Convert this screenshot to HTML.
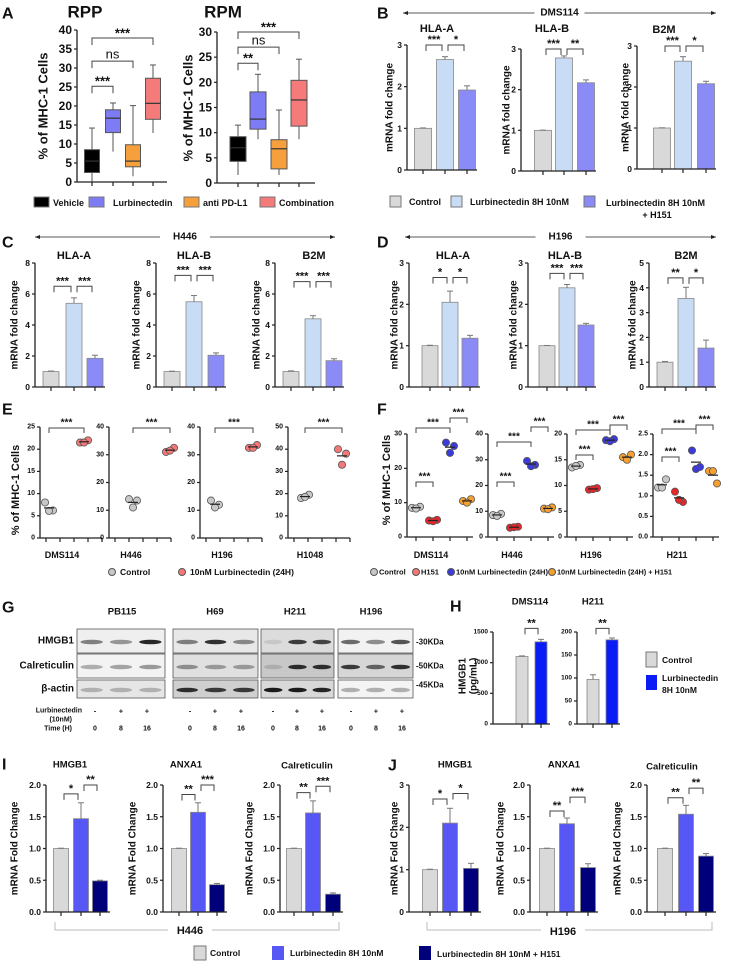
<!DOCTYPE html>
<html><head><meta charset="utf-8"><style>
html,body{margin:0;padding:0;background:#fff}
svg{display:block;font-family:"Liberation Sans",Arial,sans-serif;font-weight:bold}
</style></head><body>
<svg id="fig" width="729" height="962" viewBox="0 0 729 962"></svg>
<script>
// ---------- DATA ----------
// A: box plots [min,q1,median,q3,max]
const aGroups = ['Vehicle','Lurbinectedin','anti PD-L1','Combination'];
const aRPP = [[0,2.5,5.5,8.5,14.2],[8,13,16.8,19,20.8],[1.5,4,5.5,9.8,20.1],[12.9,16.5,20.7,27.3,30.8]];
const aRPM = [[1.6,4.3,7,9.2,11.5],[8.7,10.7,12.7,18.1,21.6],[1.6,2.8,6.8,8.6,14.5],[8.7,11.3,16.5,20.4,24.6]];
const aRPPTicks = [0,5,10,15,20,25,30,35,40];
const aRPMTicks = [0,5,10,15,20,25,30];
// B: DMS114
const bHLAA = [1,2.65,1.92], bHLAAErr = [0.01,0.07,0.1];
const bHLAB = [1,2.78,2.17], bHLABErr = [0.005,0.05,0.07];
const bB2M = [1,2.63,2.08], bB2MErr = [0.005,0.11,0.06];
const bTicks = [0,1,2,3];
// C: H446
const cHLAA = [1,5.4,1.85], cHLAAErr = [0.03,0.35,0.2];
const cHLAB = [1,5.5,2.05], cHLABErr = [0.02,0.4,0.15];
const cB2M = [1,4.4,1.7], cB2MErr = [0.04,0.2,0.12];
const cTicks = [0,2,4,6,8];
// D: H196
const dHLAA = [1,2.05,1.18], dHLAAErr = [0.01,0.27,0.07];
const dHLAB = [1,2.4,1.5], dHLABErr = [0.005,0.08,0.04];
const dB2M = [1,3.57,1.57], dB2MErr = [0.03,0.45,0.32];
const dTicks3 = [0,1,2,3], dTicks5 = [0,1,2,3,4,5];
// E
const eLines = ['DMS114','H446','H196','H1048'];
const eCtrl = [[8,6.2,6.1],[14,13.5,11],[13.5,12,11],[18,19.5,18.5]];
const eLurb = [[21.5,22,21.5],[31,32.5,31.5],[32.5,33.5,32.5],[40,38,33]];
const eMax = [25,40,40,50];
const eTicks = [[0,5,10,15,20,25],[0,10,20,30,40],[0,10,20,30,40],[0,10,20,30,40,50]];
// F
const fLines = ['DMS114','H446','H196','H211'];
const fCtrl = [[8.5,8.8,8.3],[8.5,9,8.2],[13.5,14,13.8],[1.2,1.4,1.2]];
const fH151 = [[4.8,5,4.6],[3.6,4,3.8],[9.2,9.5,9.3],[1.1,0.85,0.9]];
const fLurb = [[27.5,26.5,24.5],[29.5,28,27.5],[18.8,19,18.6],[2.1,1.7,1.65]];
const fCombo = [[10.5,11,10],[11,11.5,10.8],[15.5,16,15],[1.6,1.3,1.6]];
const fMax = [30,40,20,2.5];
const fTicks = [[0,10,20,30],[0,10,20,30,40],[0,5,10,15,20],[0,0.5,1,1.5,2,2.5]];
// H
const hDMS = [1100,1340], hDMSErr = [10,40];
const hH211 = [97,183], hH211Err = [10,4];
const hDMSTicks = [0,500,1000,1500], hH211Ticks = [0,50,100,150,200];
// I: H446
const iHMGB1 = [1,1.47,0.49], iHMGB1Err = [0.005,0.25,0.01];
const iANXA1 = [1,1.57,0.43], iANXA1Err = [0.005,0.15,0.02];
const iCALR = [1,1.56,0.28], iCALRErr = [0.005,0.19,0.02];
const iTicks = [0,0.5,1,1.5,2];
// J: H196
const jHMGB1 = [1,2.1,1.03], jHMGB1Err = [0.01,0.35,0.12];
const jANXA1 = [1,1.39,0.7], jANXA1Err = [0.005,0.09,0.06];
const jCALR = [1,1.54,0.88], jCALRErr = [0.005,0.14,0.04];
const jTicks3 = [0,1,2,3], jTicks2 = [0,0.5,1,1.5,2];

// ---------- HELPERS ----------
const NS = 'http://www.w3.org/2000/svg';
const svg = document.getElementById('fig');
function el(tag, attrs, name, parent) {
  const e = document.createElementNS(NS, tag);
  for (const k in attrs) e.setAttribute(k, attrs[k]);
  
  
  (parent || svg).appendChild(e);
  return e;
}
function txt(x, y, s, size, name, anchor, extra) {
  const a = Object.assign({x: x, y: y, 'font-size': size, 'text-anchor': anchor || 'middle', 'dominant-baseline': 'central', fill: '#111'}, extra || {});
  const t = el('text', a, name);
  t.textContent = s;
  return t;
}
function line(x1, y1, x2, y2, name, w, c) {
  return el('line', {x1: x1, y1: y1, x2: x2, y2: y2, stroke: c || '#222', 'stroke-width': w || 1}, name);
}
function vtitle(x, y, s, size, name) {
  return txt(x, y, s, size, name, 'middle', {transform: 'rotate(-90 ' + x + ' ' + y + ')'});
}
function yAxis(ax, y0, top, max, ticks, size, name, fmt) {
  const sc = v => y0 - (v / max) * (y0 - top);
  line(ax, y0, ax, sc(ticks[ticks.length - 1]), name + '-line', 1.3);
  ticks.forEach(v => {
    line(ax - 3, sc(v), ax, sc(v), name + '-tick', 1.2);
    txt(ax - 5, sc(v), fmt ? fmt(v) : String(v), size, name + '-label', 'end');
  });
  return sc;
}
function xAxis(ax, xend, y0, cs, name) {
  line(ax, y0, xend, y0, name + '-line', 1.3);
  cs.forEach(c => line(c, y0, c, y0 + 4, name + '-tick', 1.2));
}
function bracket(x1, x2, y, label, size, name, drop) {
  const d = drop === undefined ? 6 : drop;
  el('path', {d: 'M' + x1 + ' ' + (y + d) + 'V' + y + 'H' + x2 + 'V' + (y + d), fill: 'none', stroke: '#444', 'stroke-width': 1}, name);
  txt((x1 + x2) / 2, y - (label === 'ns' ? 7 : 5), label, size, name + '-label', 'middle', label === 'ns' ? {'font-weight': 'normal'} : {});
}
function barChart(o) {
  const sc = yAxis(o.ax, o.y0, o.top, o.max, o.ticks, o.tsize || 8.5, o.name + '-y-axis', o.fmt);
  o.vals.forEach((v, i) => {
    const h = o.y0 - sc(v);
    el('rect', {x: o.cs[i] - o.bw / 2, y: sc(v), width: o.bw, height: h, fill: o.colors[i], stroke: '#888', 'stroke-width': 0.8}, o.name + '-bar-' + i);
    const ye = sc(v + o.errs[i]);
    line(o.cs[i], sc(v), o.cs[i], ye, o.name + '-error', 1, '#777');
    line(o.cs[i] - 3, ye, o.cs[i] + 3, ye, o.name + '-error-cap', 1, '#777');
  });
  xAxis(o.ax, o.xend, o.y0, o.cs, o.name + '-x-axis');
  txt(o.tx, o.ty, o.title, o.tfs || 11, o.name + '-title');
  if (o.ytitle) vtitle(o.ytx, (o.y0 + o.top) / 2, o.ytitle, o.yfs || 10, o.name + '-y-title');
  o.br.forEach((b, k) => bracket(o.cs[b[0]] + 3, o.cs[b[1]] - 3, sc(b[2]), b[3], 11, o.name + '-bracket-' + k));
}
function arrowLine(x1, x2, y, label, name) {
  line(x1, y, x2, y, name + '-line', 0.8);
  el('path', {d: 'M' + x1 + ' ' + y + 'l5 -2v4z', fill: '#222'}, name + '-head-left');
  el('path', {d: 'M' + x2 + ' ' + y + 'l-5 -2v4z', fill: '#222'}, name + '-head-right');
  const mx = (x1 + x2) / 2;
  el('rect', {x: mx - 25, y: y - 6, width: 50, height: 12, fill: '#fff'}, name + '-label-bg');
  txt(mx, y, label, 10, name + '-label');
}
function panelLetter(x, y, s) { txt(x, y, s, 16, 'panel-label-' + s.toLowerCase(), 'start'); }

// ---------- PANEL A ----------
panelLetter(2, 14, 'A');
const aColors = ['#000', '#7d7cf5', '#f5a03c', '#f57b7b'];
function boxPlot(data, ax, xend, y0, top, max, ticks, cs, bw, title, tx, name, brs) {
  const sc = yAxis(ax, y0, top, max, ticks, 12, name + '-y-axis');
  data.forEach((d, i) => {
    line(cs[i], sc(d[0]), cs[i], sc(d[4]), name + '-whisker', 1, '#555');
    line(cs[i] - 3, sc(d[4]), cs[i] + 3, sc(d[4]), name + '-whisker-cap', 1, '#555');
    el('rect', {x: cs[i] - bw / 2, y: sc(d[3]), width: bw, height: sc(d[1]) - sc(d[3]), fill: aColors[i], stroke: '#555', 'stroke-width': 1}, name + '-box-' + i);
    line(cs[i] - bw / 2, sc(d[2]), cs[i] + bw / 2, sc(d[2]), name + '-median', 1.2, '#333');
  });
  xAxis(ax, xend, y0, cs, name + '-x-axis');
  txt(tx, 12, title, 17, name + '-title');
  brs.forEach((b, k) => bracket(cs[b[0]], cs[b[1]], sc(b[2]), b[3], 13, name + '-bracket-' + k, 7));
}
boxPlot(aRPP, 77, 167, 182, 30, 40, aRPPTicks, [92, 113, 133, 153], 15, 'RPP', 85, 'rpp', [[0, 3, 37.9, '***'], [0, 2, 31.8, 'ns'], [0, 1, 25.2, '***']]);
vtitle(43, 106, '% of MHC-1 Cells', 13, 'rpp-y-title');
boxPlot(aRPM, 217, 315, 183, 32, 30, aRPMTicks, [238, 258, 279, 299], 16, 'RPM', 223, 'rpm', [[0, 3, 30, '***'], [0, 2, 27, 'ns'], [0, 1, 23.8, '**']]);
vtitle(188, 108, '% of MHC-1 Cells', 13, 'rpm-y-title');
[[34, 53, 'Vehicle'], [89, 113, 'Lurbinectedin'], [184, 203, 'anti PD-L1'], [260, 279, 'Combination']].forEach((l, i) => {
  el('rect', {x: l[0], y: 197, width: 15, height: 10, fill: aColors[i], stroke: '#777'}, 'legend-swatch-a-' + i);
  txt(l[1], 203, l[2], 9, 'legend-entry-a-' + i, 'start');
});

// ---------- PANEL B ----------
panelLetter(377, 14, 'B');
arrowLine(403, 716, 13, 'DMS114', 'b-cell-line-arrow');
const bCol = ['#d9d9d9', '#c8dcf5', '#8b8bf7'];
barChart({name: 'b-hla-a', ax: 407, y0: 170, top: 45, max: 3, ticks: bTicks, vals: bHLAA, errs: bHLAAErr, cs: [423, 445, 467], bw: 17, xend: 477, colors: bCol, title: 'HLA-A', tx: 437, ty: 29, ytitle: 'mRNA fold change', ytx: 390, br: [[0, 1, 3, '***'], [1, 2, 3, '*']]});
barChart({name: 'b-hla-b', ax: 521, y0: 171, top: 49, max: 3, ticks: bTicks, vals: bHLAB, errs: bHLABErr, cs: [543, 564, 586], bw: 17, xend: 596, colors: bCol, title: 'HLA-B', tx: 552, ty: 29, ytitle: 'mRNA fold change', ytx: 507, br: [[0, 1, 3, '***'], [1, 2, 3, '**']]});
barChart({name: 'b-b2m', ax: 637, y0: 169, top: 46, max: 3, ticks: bTicks, vals: bB2M, errs: bB2MErr, cs: [662, 683, 706], bw: 17, xend: 716, colors: bCol, title: 'B2M', tx: 664, ty: 30, ytitle: 'mRNA fold change', ytx: 626, br: [[0, 1, 3, '***'], [1, 2, 3, '*']]});
el('rect', {x: 390, y: 196, width: 11, height: 11, fill: bCol[0], stroke: '#777'}, 'legend-swatch-b-control');
txt(409, 202, 'Control', 9, 'legend-entry-b-control', 'start');
el('rect', {x: 451, y: 196, width: 11, height: 11, fill: bCol[1], stroke: '#777'}, 'legend-swatch-b-lurb');
txt(470, 202, 'Lurbinectedin 8H 10nM', 9, 'legend-entry-b-lurb', 'start');
el('rect', {x: 584, y: 196, width: 11, height: 11, fill: bCol[2], stroke: '#777'}, 'legend-swatch-b-h151');
txt(606, 203, 'Lurbinectedin 8H 10nM', 9, 'legend-entry-b-h151', 'start');
txt(657, 215, '+ H151', 9, 'legend-entry-b-h151-2');

// ---------- PANEL C ----------
panelLetter(2, 243, 'C');
arrowLine(35, 335, 237, 'H446', 'c-cell-line-arrow');
barChart({name: 'c-hla-a', ax: 35, y0: 387, top: 263, max: 8, ticks: cTicks, vals: cHLAA, errs: cHLAAErr, cs: [51, 74, 95], bw: 16, xend: 105, colors: bCol, title: 'HLA-A', tx: 74, ty: 256, ytitle: 'mRNA fold change', ytx: 15, br: [[0, 1, 6.5, '***'], [1, 2, 6.5, '***']]});
barChart({name: 'c-hla-b', ax: 156, y0: 387, top: 263, max: 8, ticks: cTicks, vals: cHLAB, errs: cHLABErr, cs: [172, 194, 216], bw: 16, xend: 226, colors: bCol, title: 'HLA-B', tx: 194, ty: 256, ytitle: 'mRNA fold change', ytx: 137, br: [[0, 1, 7.2, '***'], [1, 2, 7.2, '***']]});
barChart({name: 'c-b2m', ax: 275, y0: 387, top: 263, max: 8, ticks: cTicks, vals: cB2M, errs: cB2MErr, cs: [291, 313, 334], bw: 16, xend: 344, colors: bCol, title: 'B2M', tx: 314, ty: 256, ytitle: 'mRNA fold change', ytx: 257, br: [[0, 1, 6.8, '***'], [1, 2, 6.8, '***']]});

// ---------- PANEL D ----------
panelLetter(377, 243, 'D');
arrowLine(405, 716, 237, 'H196', 'd-cell-line-arrow');
barChart({name: 'd-hla-a', ax: 409, y0: 387, top: 263, max: 3, ticks: dTicks3, vals: dHLAA, errs: dHLAAErr, cs: [430, 450, 470], bw: 16, xend: 480, colors: bCol, title: 'HLA-A', tx: 453, ty: 256, ytitle: 'mRNA fold change', ytx: 395, br: [[0, 1, 2.65, '*'], [1, 2, 2.65, '*']]});
barChart({name: 'd-hla-b', ax: 528, y0: 387, top: 263, max: 3, ticks: dTicks3, vals: dHLAB, errs: dHLABErr, cs: [547, 567, 586], bw: 16, xend: 596, colors: bCol, title: 'HLA-B', tx: 565, ty: 256, ytitle: 'mRNA fold change', ytx: 514, br: [[0, 1, 2.75, '***'], [1, 2, 2.75, '***']]});
barChart({name: 'd-b2m', ax: 649, y0: 387, top: 263, max: 5, ticks: dTicks5, vals: dB2M, errs: dB2MErr, cs: [665, 686, 706], bw: 16, xend: 716, colors: bCol, title: 'B2M', tx: 686, ty: 256, ytitle: 'mRNA fold change', ytx: 633, br: [[0, 1, 4.4, '**'], [1, 2, 4.4, '*']]});

// ---------- SCATTER HELPER ----------
const jit = [-4, 4, 0];
function dots(x, vals, sc, fill, name) {
  const m = vals.reduce((a, b) => a + b, 0) / vals.length;
  vals.forEach((v, k) => el('circle', {cx: x + jit[k], cy: sc(v), r: 3.6, fill: fill, stroke: '#555', 'stroke-width': 0.8}, name + '-point'));
  line(x - 5, sc(m), x + 5, sc(m), name + '-mean', 1.2, '#222');
}

// ---------- PANEL E ----------
panelLetter(2, 410, 'E');
vtitle(16, 490, '% of MHC-1 Cells', 11, 'e-y-title');
const eAx = [40, 109, 200, 288];
const eOff = [[9, 44], [24, 61], [15, 53], [17, 54]];
eLines.forEach((ln, i) => {
  const ax = eAx[i];
  const sc = yAxis(ax, 538, 427, eMax[i], eTicks[i], 7, 'e-' + ln + '-y-axis');
  const cx = [ax + eOff[i][0], ax + eOff[i][1]];
  xAxis(ax, ax + 62, 538, [ax + 6, ax + 20, ax + 34, ax + 48, ax + 62], 'e-' + ln + '-x-axis');
  dots(cx[0], eCtrl[i], sc, '#c8c8c8', 'e-' + ln + '-control');
  dots(cx[1], eLurb[i], sc, '#f57878', 'e-' + ln + '-lurb');
  bracket(cx[0], cx[1], 428, '***', 10, 'e-' + ln + '-bracket', 5);
  txt(ax + 22, 555, ln, 9, 'e-' + ln + '-label');
});
el('circle', {cx: 112, cy: 572, r: 3.5, fill: '#c8c8c8', stroke: '#555'}, 'legend-e-control-marker');
txt(120, 572, 'Control', 8.5, 'legend-e-control', 'start');
el('circle', {cx: 182, cy: 572, r: 3.5, fill: '#f57878', stroke: '#555'}, 'legend-e-lurb-marker');
txt(190, 572, '10nM Lurbinectedin (24H)', 8.5, 'legend-e-lurb', 'start');

// ---------- PANEL F ----------
panelLetter(377, 410, 'F');
vtitle(387, 480, '% of MHC-1 Cells', 11, 'f-y-title');
const fAx = [407, 488, 567, 653];
const fBr = [[428, 418, 482], [442, 427, 482], [430, 425, 455], [429, 425, 457]];
fLines.forEach((ln, i) => {
  const ax = fAx[i];
  const sc = yAxis(ax, 537, 434, fMax[i], fTicks[i], 7, 'f-' + ln + '-y-axis', v => i === 3 ? v.toFixed(1) : String(v));
  const cx = [ax + 9, ax + 26, ax + 43, ax + 60];
  xAxis(ax, ax + 66, 537, cx, 'f-' + ln + '-x-axis');
  dots(cx[0], fCtrl[i], sc, '#c8c8c8', 'f-' + ln + '-control');
  dots(cx[1], fH151[i], sc, '#e8262a', 'f-' + ln + '-h151');
  dots(cx[2], fLurb[i], sc, '#3b3bdc', 'f-' + ln + '-lurb');
  dots(cx[3], fCombo[i], sc, '#f5a030', 'f-' + ln + '-combo');
  bracket(cx[0], cx[2], fBr[i][0], '***', 10, 'f-' + ln + '-bracket-1', 5);
  bracket(cx[2], cx[3], fBr[i][1], '***', 10, 'f-' + ln + '-bracket-2', 5);
  bracket(cx[0], cx[1], fBr[i][2], '***', 10, 'f-' + ln + '-bracket-3', 5);
  txt(ax + 24, 555, ln, 9, 'f-' + ln + '-label');
});
[[374, '#c8c8c8', 'Control', 0], [416, '#f57878', 'H151', 0], [451, '#3b3bdc', '10nM Lurbinectedin (24H)', 92], [552, '#f5a030', '10nM Lurbinectedin (24H) + H151', 115]].forEach((l, i) => {
  el('circle', {cx: l[0], cy: 572, r: 3.5, fill: l[1], stroke: '#555'}, 'legend-f-marker-' + i);
  const ex = l[3] ? {textLength: l[3], lengthAdjust: 'spacingAndGlyphs'} : {};
  txt(l[0] + 5, 572, l[2], 7.5, 'legend-f-entry-' + i, 'start', ex);
});

// ---------- PANEL G (western blots) ----------
panelLetter(2, 608, 'G');
const gPanels = [[77, 165, 'PB115', 122], [173, 258, 'H69', 215], [261, 334, 'H211', 295], [338, 413, 'H196', 371]];
const gRows = [[629, 653, 'HMGB1'], [654, 678, 'Calreticulin'], [680, 698, 'β-actin']];
const gBands = [
  [[0.5, 0.4, 0.9], [0.3, 0.35, 0.4], [0.25, 0.25, 0.25]],
  [[0.5, 0.85, 0.45], [0.4, 0.35, 0.35], [0.85, 0.8, 0.8]],
  [[0.1, 0.8, 0.75], [0.15, 0.85, 0.85], [0.95, 0.95, 0.9]],
  [[0.6, 0.45, 0.7], [0.8, 0.6, 0.85], [0.3, 0.3, 0.3]]
];
const gBg = [['#efefef', '#f3f3f3', '#e6e6e6'], ['#e8e8e8', '#e0e0e0', '#cfcfcf'], ['#dcdcdc', '#c8c8c8', '#d8d8d8'], ['#f2f2f2', '#d6d6d6', '#f4f4f4']];
gPanels.forEach((p, i) => {
  txt(p[3], 612, p[2], 9.5, 'blot-title-' + p[2]);
  gRows.forEach((r, j) => {
    el('rect', {x: p[0], y: r[0], width: p[1] - p[0], height: r[1] - r[0], fill: gBg[i][j], stroke: '#555', 'stroke-width': 0.8}, 'blot-' + p[2] + '-' + j);
    const w = (p[1] - p[0]) / 3;
    gBands[i][j].forEach((a, k) => {
      el('ellipse', {cx: p[0] + w * (k + 0.5), cy: (r[0] + r[1]) / 2 + 1, rx: w * 0.38, ry: 2.3, fill: '#111', opacity: a}, 'blot-band');
    });
  });
});
gRows.forEach(r => txt(74, (r[0] + r[1]) / 2, r[2], 10, 'blot-row-label', 'end'));
txt(416, 642, '-30KDa', 8, 'kda-30', 'start');
txt(416, 666, '-50KDa', 8, 'kda-50', 'start');
txt(416, 685, '-45KDa', 8, 'kda-45', 'start');
txt(82, 711, 'Lurbinectedin', 7, 'treat-label-1', 'end');
txt(72, 720, '(10nM)', 7, 'treat-label-2', 'end');
txt(72, 729, 'Time (H)', 7, 'treat-label-3', 'end');
const gTime = ['0', '8', '16'], gSign = ['-', '+', '+'];
[[95, 121, 147], [190, 215, 241], [273, 297, 322], [351, 376, 402]].forEach(xs => xs.forEach((x, k) => {
  txt(x, 711, gSign[k], 7.5, 'treat-sign');
  txt(x, 729, gTime[k], 7, 'treat-time');
}));

// ---------- PANEL H ----------
txt(450, 607, 'H', 16, 'panel-label-h', 'start');
const hCol = ['#d9d9d9', '#0a1cf5'];
barChart({name: 'h-dms114', ax: 493, y0: 724, top: 632, max: 1500, ticks: hDMSTicks, vals: hDMS, errs: hDMSErr, cs: [522, 541], bw: 12, xend: 550, colors: hCol, title: 'DMS114', tx: 530, ty: 602, tfs: 9.5, tsize: 6.5, ytitle: '', ytx: 470, br: [[0, 1, 1560, '**']]});
barChart({name: 'h-h211', ax: 577, y0: 724, top: 632, max: 200, ticks: hH211Ticks, vals: hH211, errs: hH211Err, cs: [593, 612], bw: 12, xend: 620, colors: hCol, title: 'H211', tx: 593, ty: 602, tfs: 9.5, tsize: 6.5, ytitle: '', ytx: 470, br: [[0, 1, 208, '**']]});
vtitle(463, 676, 'HMGB1', 10, 'h-y-title-1');
vtitle(474, 676, '(pg/mL)', 10, 'h-y-title-2');
el('rect', {x: 646, y: 652, width: 11, height: 15, fill: hCol[0], stroke: '#777'}, 'legend-h-control-swatch');
txt(662, 660, 'Control', 8.5, 'legend-h-control', 'start');
el('rect', {x: 646, y: 675, width: 11, height: 15, fill: hCol[1]}, 'legend-h-lurb-swatch');
txt(662, 678, 'Lurbinectedin', 8.5, 'legend-h-lurb', 'start');
txt(662, 690, '8H 10nM', 8.5, 'legend-h-lurb-2', 'start');

// ---------- PANEL I ----------
const iCol = ['#d9d9d9', '#5757f5', '#00007a'];
const f1 = v => v.toFixed(1);
txt(2, 765, 'I', 16, 'panel-label-i', 'start');
barChart({name: 'i-hmgb1', ax: 46, y0: 912, top: 785, max: 2, ticks: iTicks, vals: iHMGB1, errs: iHMGB1Err, cs: [61, 81, 100], bw: 15, xend: 110, colors: iCol, fmt: f1, title: 'HMGB1', tx: 70, ty: 765, tfs: 9.5, ytitle: 'mRNA Fold Change', ytx: 15, br: [[0, 1, 1.86, '*'], [1, 2, 2.0, '**']]});
barChart({name: 'i-anxa1', ax: 163, y0: 912, top: 785, max: 2, ticks: iTicks, vals: iANXA1, errs: iANXA1Err, cs: [179, 198, 217], bw: 15, xend: 227, colors: iCol, fmt: f1, title: 'ANXA1', tx: 186, ty: 765, tfs: 9.5, ytitle: 'mRNA Fold Change', ytx: 133, br: [[0, 1, 1.85, '**'], [1, 2, 2.0, '***']]});
barChart({name: 'i-calreticulin', ax: 280, y0: 912, top: 785, max: 2, ticks: iTicks, vals: iCALR, errs: iCALRErr, cs: [294, 313, 333], bw: 15, xend: 343, colors: iCol, fmt: f1, title: 'Calreticulin', tx: 307, ty: 766, tfs: 9.5, ytitle: 'mRNA Fold Change', ytx: 250, br: [[0, 1, 1.88, '**'], [1, 2, 1.98, '***']]});
el('path', {d: 'M55 922V930H339V922', fill: 'none', stroke: '#bbb'}, 'i-group-line');
el('rect', {x: 168, y: 924, width: 44, height: 14, fill: '#fff'}, 'i-group-bg');
txt(190, 931, 'H446', 11, 'i-group-label');

// ---------- PANEL J ----------
txt(388, 766, 'J', 16, 'panel-label-j', 'start');
barChart({name: 'j-hmgb1', ax: 409, y0: 912, top: 785, max: 3, ticks: jTicks3, vals: jHMGB1, errs: jHMGB1Err, cs: [430, 450, 471], bw: 15, xend: 481, colors: iCol, title: 'HMGB1', tx: 455, ty: 765, tfs: 9.5, ytitle: 'mRNA Fold Change', ytx: 395, br: [[0, 1, 2.67, '*'], [1, 2, 2.8, '*']]});
barChart({name: 'j-anxa1', ax: 530, y0: 912, top: 785, max: 2, ticks: jTicks2, vals: jANXA1, errs: jANXA1Err, cs: [547, 567, 588], bw: 15, xend: 598, colors: iCol, fmt: f1, title: 'ANXA1', tx: 564, ty: 765, tfs: 9.5, ytitle: 'mRNA Fold Change', ytx: 501, br: [[0, 1, 1.59, '**'], [1, 2, 1.81, '***']]});
barChart({name: 'j-calreticulin', ax: 647, y0: 912, top: 785, max: 2, ticks: jTicks2, vals: jCALR, errs: jCALRErr, cs: [665, 686, 706], bw: 15, xend: 716, colors: iCol, fmt: f1, title: 'Calreticulin', tx: 672, ty: 767, tfs: 9.5, ytitle: 'mRNA Fold Change', ytx: 618, br: [[0, 1, 1.8, '**'], [1, 2, 1.95, '**']]});
el('path', {d: 'M427 922V930H712V922', fill: 'none', stroke: '#bbb'}, 'j-group-line');
el('rect', {x: 541, y: 924, width: 44, height: 14, fill: '#fff'}, 'j-group-bg');
txt(563, 932, 'H196', 11, 'j-group-label');

// ---------- I/J LEGEND ----------
el('rect', {x: 194, y: 946, width: 12, height: 14, fill: iCol[0], stroke: '#777'}, 'legend-ij-control-swatch');
txt(210, 953, 'Control', 8.5, 'legend-ij-control', 'start');
el('rect', {x: 272, y: 946, width: 12, height: 14, fill: iCol[1]}, 'legend-ij-lurb-swatch');
txt(290, 953, 'Lurbinectedin 8H 10nM', 8.5, 'legend-ij-lurb', 'start');
el('rect', {x: 419, y: 946, width: 12, height: 14, fill: iCol[2]}, 'legend-ij-h151-swatch');
txt(437, 954, 'Lurbinectedin 8H 10nM + H151', 8.5, 'legend-ij-h151', 'start');
</script>
</body></html>
